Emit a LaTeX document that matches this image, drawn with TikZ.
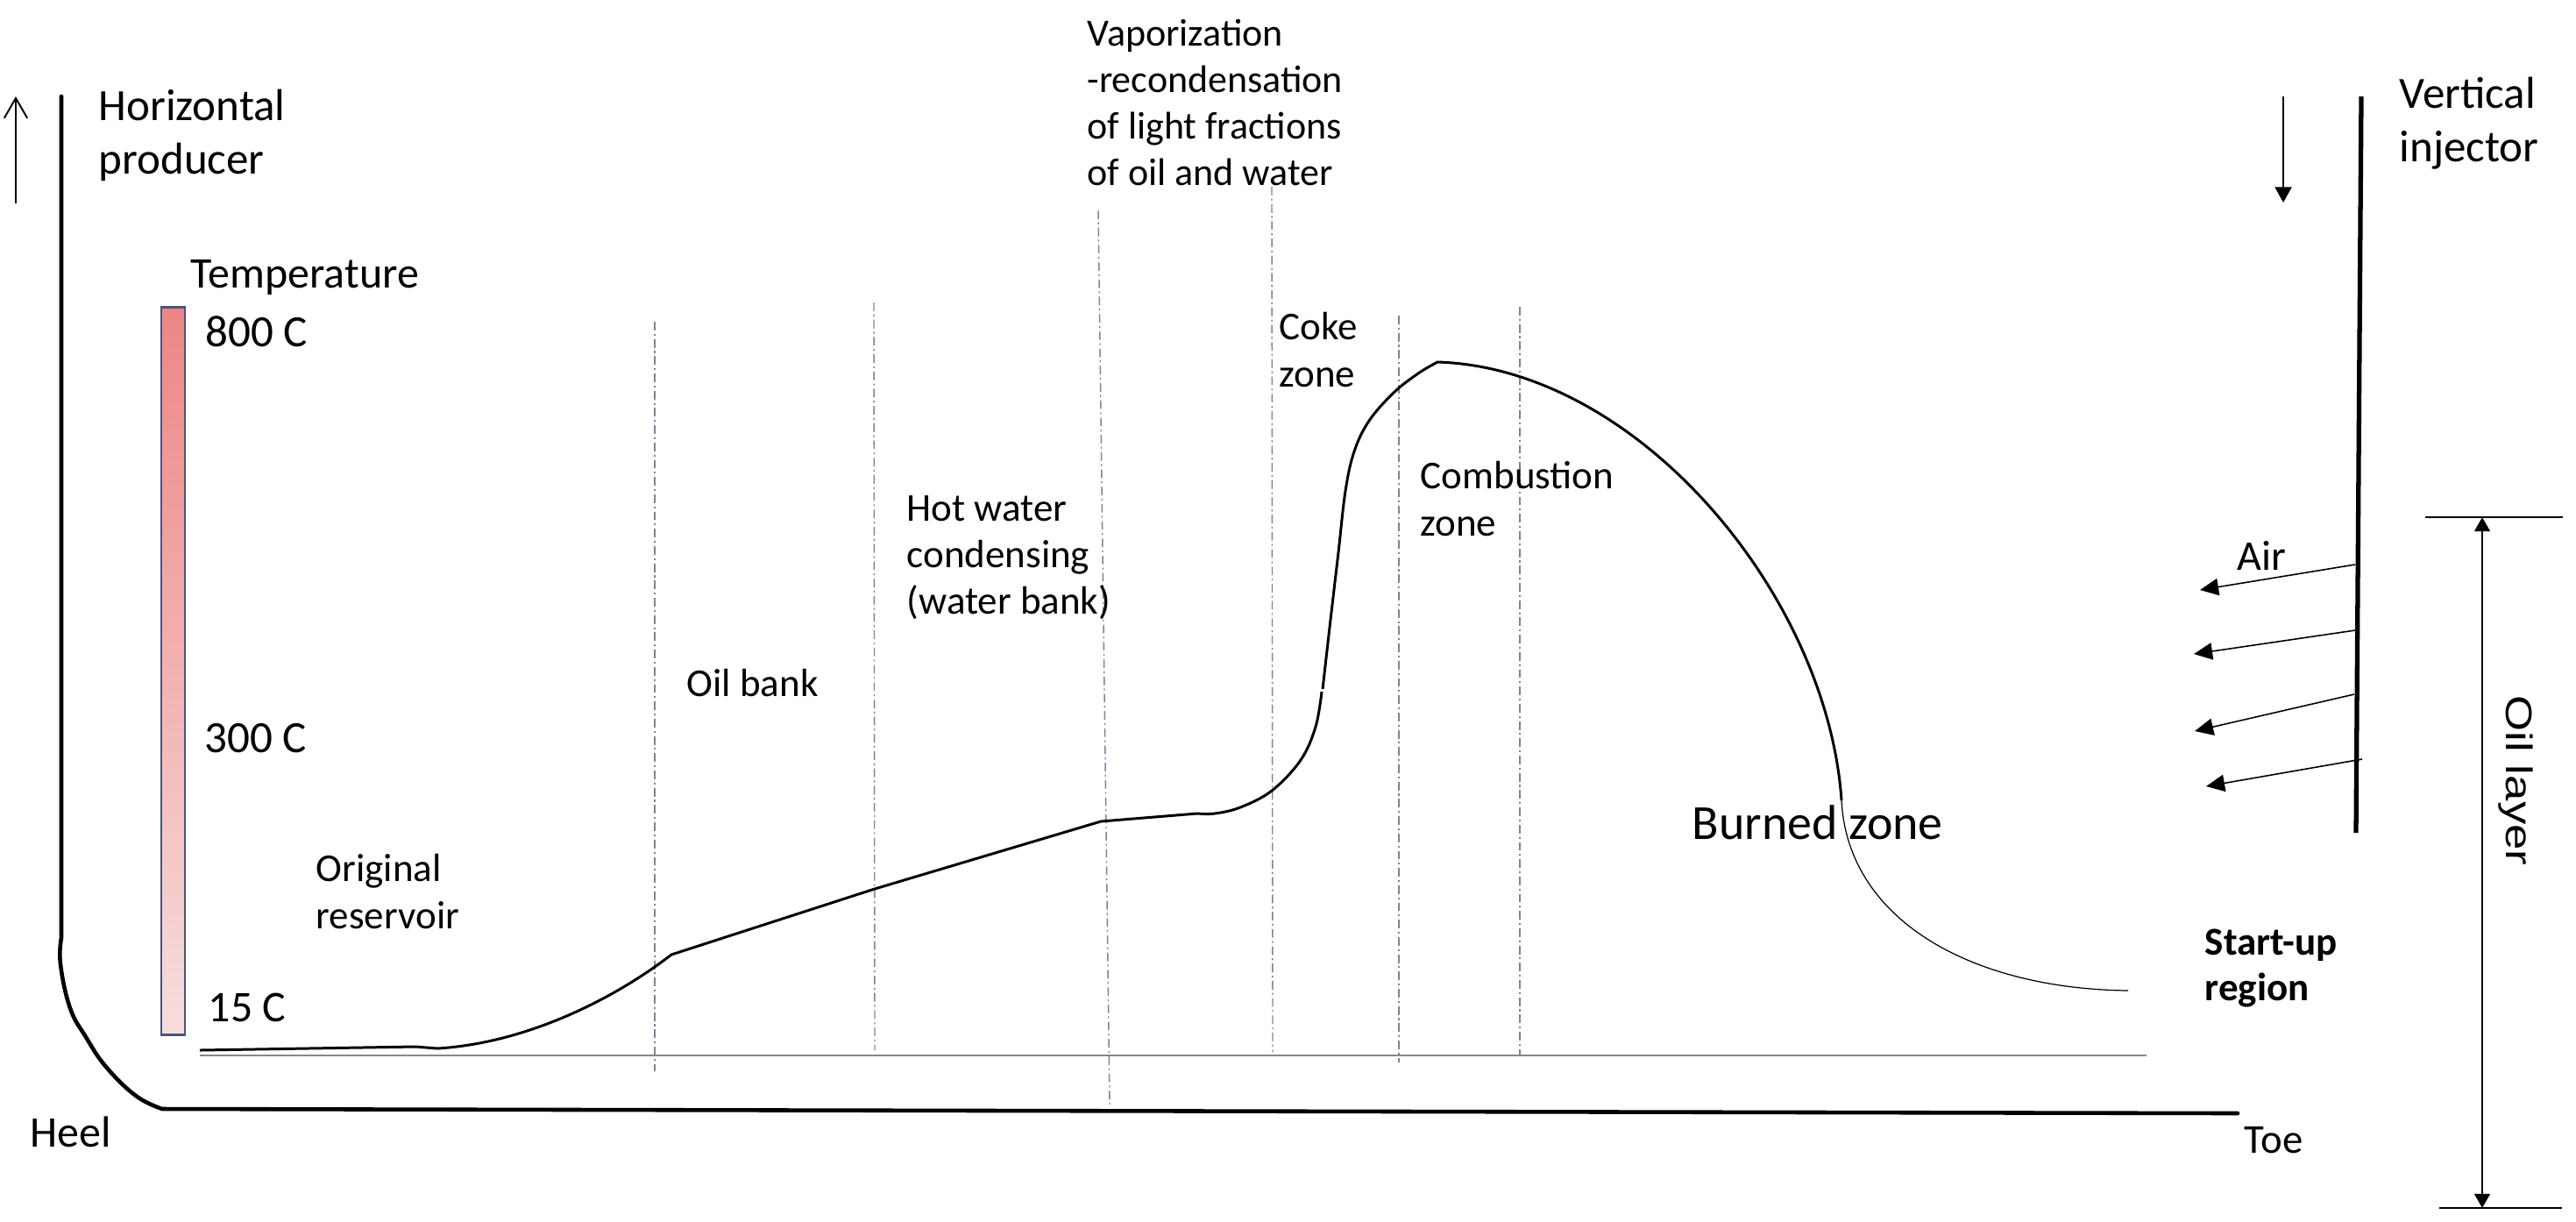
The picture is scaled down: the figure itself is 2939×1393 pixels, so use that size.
\documentclass[tikz,border=0pt]{standalone}
\usepackage{fontspec}
\setmainfont{Carlito}
\newfontfamily\arialf{Liberation Sans}
\usetikzlibrary{arrows.meta}
\newcommand\fsz[2]{\fontsize{#1}{#2}\selectfont}
\newcommand\mlines[1]{\vtop{\halign{##\hfil\cr#1\crcr}}}
\definecolor{zonec}{RGB}{125,130,152}
\definecolor{basec}{RGB}{135,135,135}
\definecolor{bartop}{RGB}{237,134,134}
\definecolor{barbot}{RGB}{246,222,220}
\definecolor{barframe}{RGB}{74,84,128}
\begin{document}
\begin{tikzpicture}[x=0.01cm,y=-0.01cm,
  lbl/.style={inner sep=0pt, anchor=base west, text=black},
  well/.style={line width=1.3pt, line join=round, line cap=round},
  zoneline/.style={line width=0.4pt, draw=zonec, dash pattern=on 2.8pt off 1.1pt on 0.6pt off 1.1pt},
  tcurve/.style={line width=0.85pt, line join=round},
  thincurve/.style={line width=0.35pt},
  airarrow/.style={line width=0.45pt, -{Triangle[length=6pt,width=5.5pt]}},
  dimline/.style={line width=0.45pt},
  ]
\useasboundingbox (0,0) rectangle (2939,1393);

% ---------- producer well ----------
\coordinate (upA) at (18,232);
\coordinate (upB) at (18,110);
\draw[line width=0.55pt, -{Straight Barb[length=6.5pt,width=7.5pt]}] (upA) -- (upB);
\draw[well] (70,110) -- (70,1070)
  -- plot[smooth, tension=0.7] coordinates {(70,1070) (69,1100) (80,1150) (98,1183) (121,1217) (155,1250) (185,1265)}
  -- (2553,1270);

% ---------- temperature bar ----------
\shade[top color=bartop, bottom color=barbot] (184,350) rectangle (211,1180);
\draw[barframe, line width=0.85pt] (184,350) rectangle (211,1180);

% ---------- gray base line ----------
\draw[basec, line width=0.6pt] (228,1204) -- (2449,1204);

% ---------- zone lines ----------
\draw[zoneline] (747,367) -- (747,1222);
\draw[zoneline] (997,345) -- (998,1198);
\draw[zoneline] (1253,240) -- (1266,1262);
\draw[zoneline] (1451,213) -- (1452,1200);
\draw[zoneline] (1596,360) -- (1596,1212);
\draw[zoneline] (1734,350) -- (1734,1203);

% ---------- temperature profile ----------
\draw[tcurve] (228,1198) -- (474,1194) -- (499,1196)
  .. controls (600,1190) and (700,1140) .. (766,1089)
  -- (998,1014) -- (1256,937) -- (1366,928)
  -- plot[smooth, tension=0.6] coordinates {(1366,928) (1386,928) (1415,921) (1451,902) (1484,867) (1501,829) (1508,789)};
\draw[tcurve] plot[smooth, tension=0.6] coordinates {(1509,786) (1518,707) (1527,630) (1535,560) (1545,515) (1562,480) (1590,448) (1618,426) (1640,413)}
  .. controls (1870,420) and (2085,680) .. (2101,913);
\draw[thincurve] (2101,913) .. controls (2108,1050) and (2250,1128) .. (2428,1130);

% ---------- injector ----------
\draw[line width=1.5pt] (2694,110) -- (2688,950);
\coordinate (dnA) at (2605,110);
\coordinate (dnB) at (2605,231);
\draw[line width=0.6pt, -{Triangle[length=5pt,width=5.4pt]}] (dnA) -- (dnB);

\coordinate (a1s) at (2687,644); \coordinate (a1e) at (2510,673);
\coordinate (a2s) at (2687,719); \coordinate (a2e) at (2503,746);
\coordinate (a3s) at (2686,792); \coordinate (a3e) at (2504,834);
\coordinate (a4s) at (2695,866); \coordinate (a4e) at (2517,897);
\draw[airarrow] (a1s) -- (a1e);
\draw[airarrow] (a2s) -- (a2e);
\draw[airarrow] (a3s) -- (a3e);
\draw[airarrow] (a4s) -- (a4e);

% ---------- oil layer dimension ----------
\coordinate (olT) at (2832,590);
\coordinate (olB) at (2832,1378);
\draw[dimline] (2767,590) -- (2924,590);
\draw[dimline] (2783,1378) -- (2923,1378);
\draw[dimline, {Triangle[length=4.6pt,width=5.1pt]}-{Triangle[length=4.6pt,width=5.1pt]}] (olT) -- (olB);

% ---------- labels ----------
\node[lbl, font={\fsz{14.5pt}{17.4pt}}] (hprod) at (112,137) {\mlines{Horizontal\cr producer}};
\node[lbl, font={\fsz{14.2pt}{17pt}}] (temp) at (217,328) {Temperature};
\node[lbl, font={\fsz{14.5pt}{17pt}}] (t800) at (234,395) {800 C};
\node[lbl, font={\fsz{14.5pt}{17pt}}] (t300) at (233,858) {300 C};
\node[lbl, font={\fsz{14.2pt}{17pt}}] (t15) at (237,1165) {15 C};
\node[lbl, font={\fsz{14.2pt}{17pt}}] (heel) at (34,1308) {Heel};
\node[lbl, font={\fsz{13.3pt}{16pt}}] (toe) at (2560,1315) {Toe};
\node[lbl, font={\fsz{12.8pt}{15.6pt}}] (orig) at (360,1005) {\mlines{Original\cr reservoir}};
\node[lbl, font={\fsz{12.8pt}{15.4pt}}] (oilbank) at (783,794) {Oil bank};
\node[lbl, font={\fsz{12.8pt}{15.1pt}}] (hotw) at (1034,594) {\mlines{Hot water\cr condensing\cr (water bank)}};
\node[lbl, font={\fsz{12.5pt}{15.1pt}}] (vap) at (1240,52) {\mlines{Vaporization\cr -recondensation\cr of light fractions\cr of oil and water}};
\node[lbl, font={\fsz{12.8pt}{15.6pt}}] (coke) at (1459,387) {\mlines{Coke\cr zone}};
\node[lbl, font={\fsz{12.8pt}{15.4pt}}] (comb) at (1620,557) {\mlines{Combustion\cr zone}};
\node[lbl, font={\fsz{15.9pt}{19pt}}] (burn) at (1930,957) {Burned zone};
\node[lbl, font={\fsz{12.8pt}{14.8pt}\bfseries}] (start) at (2515,1089) {\mlines{Start-up\cr region}};
\node[lbl, font={\fsz{14.5pt}{17.6pt}}] (vinj) at (2737,123) {\mlines{Vertical\cr injector}};
\node[lbl, font={\fsz{13.7pt}{16.4pt}}] (air) at (2552,650) {Air};
\node[lbl, font={\arialf\fsz{12pt}{14pt}}, rotate=-90, xscale=1.25] (oillayer) at (2859,793) {Oil layer};
\end{tikzpicture}
\end{document}
